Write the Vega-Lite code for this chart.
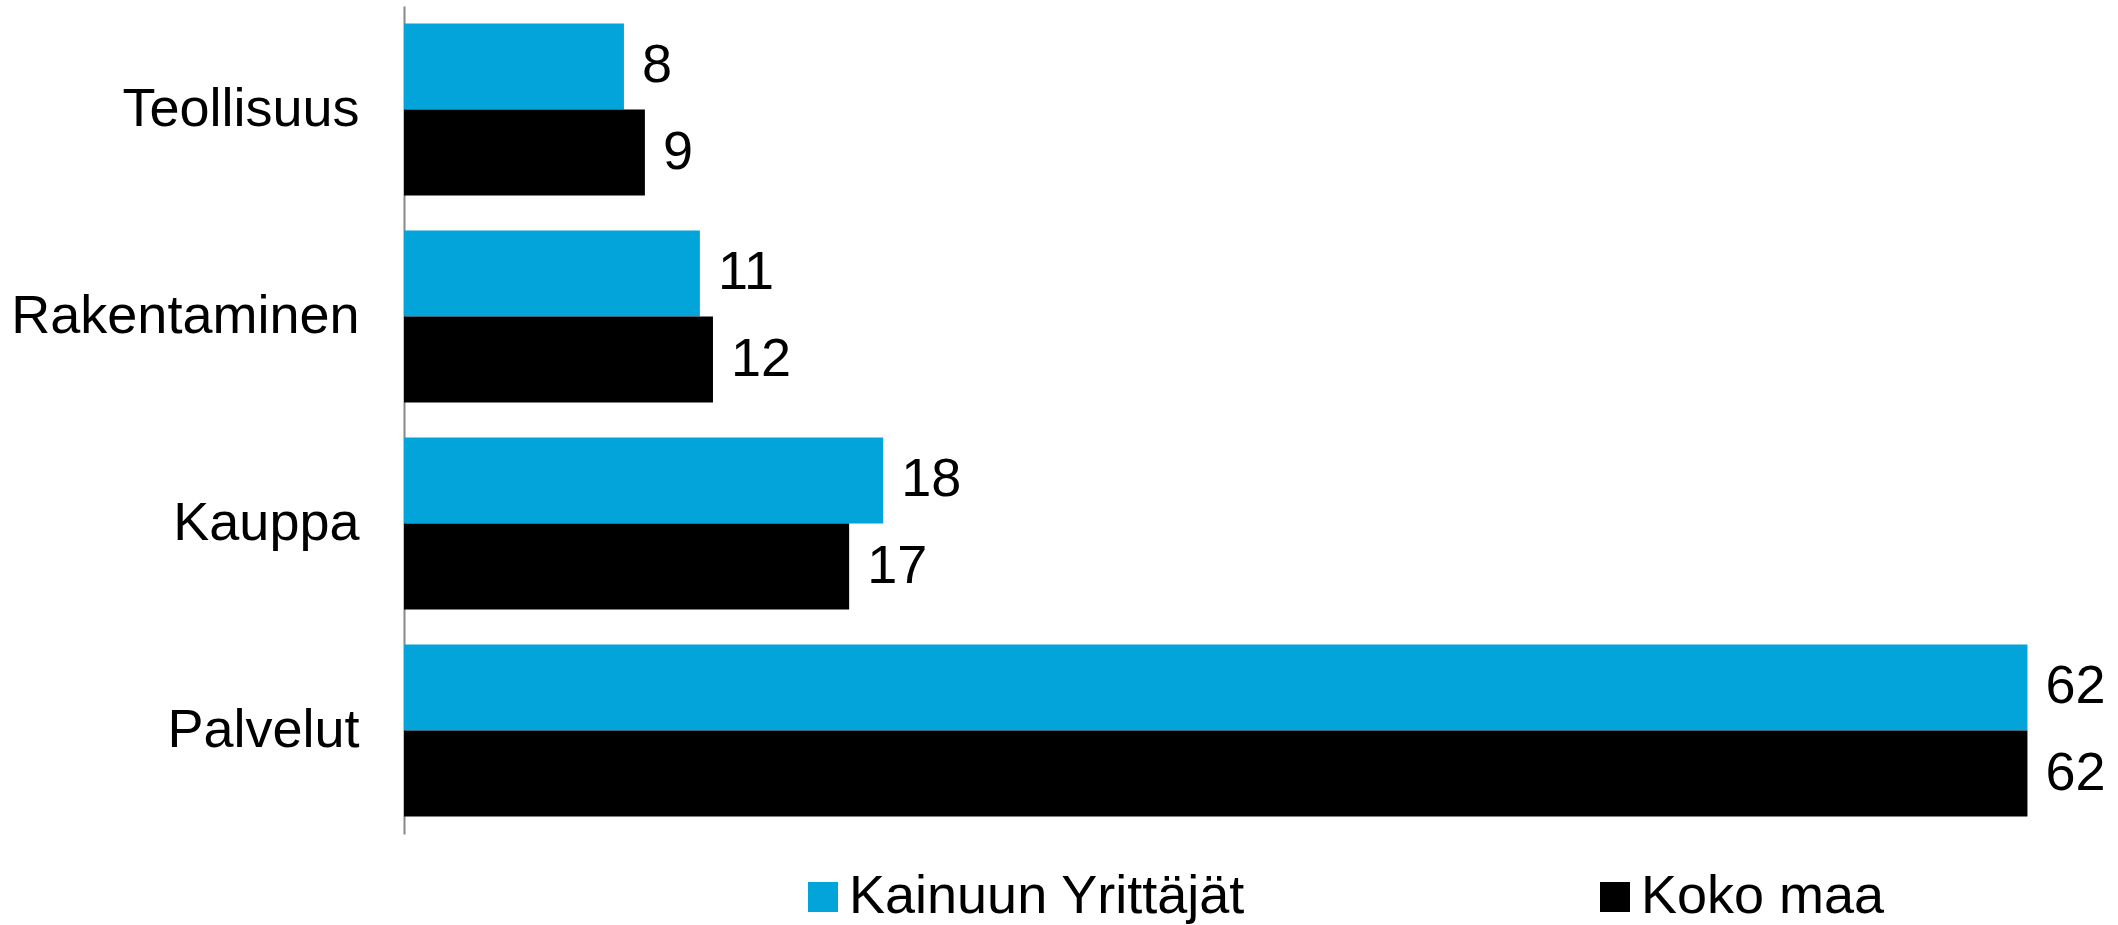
{
  "$schema": "https://vega.github.io/schema/vega-lite/v6.json",
  "width": 1702,
  "height": 828,
  "autosize": {"type": "none"},
  "padding": {"left": 404, "top": 6, "right": 12, "bottom": 91},
  "background": "white",
  "config": {
    "view": {"stroke": null},
    "font": "Liberation Sans",
    "text": {"font": "Liberation Sans"}
  },
  "data": {
    "values": [
      {"toimiala": "Teollisuus", "sarja": "Kainuun Yrittäjät", "osuus": 8.4},
      {"toimiala": "Teollisuus", "sarja": "Koko maa", "osuus": 9.2},
      {"toimiala": "Rakentaminen", "sarja": "Kainuun Yrittäjät", "osuus": 11.3},
      {"toimiala": "Rakentaminen", "sarja": "Koko maa", "osuus": 11.8},
      {"toimiala": "Kauppa", "sarja": "Kainuun Yrittäjät", "osuus": 18.3},
      {"toimiala": "Kauppa", "sarja": "Koko maa", "osuus": 17.0},
      {"toimiala": "Palvelut", "sarja": "Kainuun Yrittäjät", "osuus": 62.0},
      {"toimiala": "Palvelut", "sarja": "Koko maa", "osuus": 62.0}
    ]
  },
  "encoding": {
    "y": {
      "field": "toimiala",
      "type": "nominal",
      "sort": ["Teollisuus", "Rakentaminen", "Kauppa", "Palvelut"],
      "scale": {"paddingInner": 0.169, "paddingOuter": 0.0845},
      "axis": {
        "title": null,
        "ticks": false,
        "labelFontSize": 54,
        "labelColor": "#000000",
        "labelFont": "Liberation Sans",
        "labelPadding": 45,
        "labelLimit": 1000,
        "domainColor": "#888888",
        "domainWidth": 2
      }
    },
    "yOffset": {
      "field": "sarja",
      "type": "nominal",
      "sort": ["Kainuun Yrittäjät", "Koko maa"],
      "scale": {"paddingInner": 0, "paddingOuter": 0}
    },
    "x": {
      "field": "osuus",
      "type": "quantitative",
      "scale": {"domain": [0, 65], "nice": false},
      "axis": null
    }
  },
  "layer": [
    {
      "mark": {"type": "bar", "cornerRadius": 0},
      "encoding": {
        "color": {
          "field": "sarja",
          "type": "nominal",
          "sort": ["Kainuun Yrittäjät", "Koko maa"],
          "scale": {"domain": ["Kainuun Yrittäjät", "Koko maa"], "range": ["#03A4D9", "#000000"]},
          "legend": {
            "title": null,
            "orient": "none",
            "direction": "horizontal",
            "legendX": 392,
            "legendY": 864,
            "symbolType": "square",
            "symbolSize": 900,
            "symbolStrokeWidth": 0,
            "symbolOpacity": 1,
            "labelFontSize": 54,
            "labelFont": "Liberation Sans",
            "labelColor": "#000000",
            "labelOffset": -1,
            "labelLimit": 1000,
            "columnPadding": 342
          }
        }
      }
    },
    {
      "mark": {"type": "text", "align": "left", "baseline": "middle", "dx": 18, "fontSize": 54, "font": "Liberation Sans", "color": "#000000"},
      "encoding": {
        "text": {"field": "osuus", "type": "quantitative", "format": ".0f"}
      }
    }
  ]
}
